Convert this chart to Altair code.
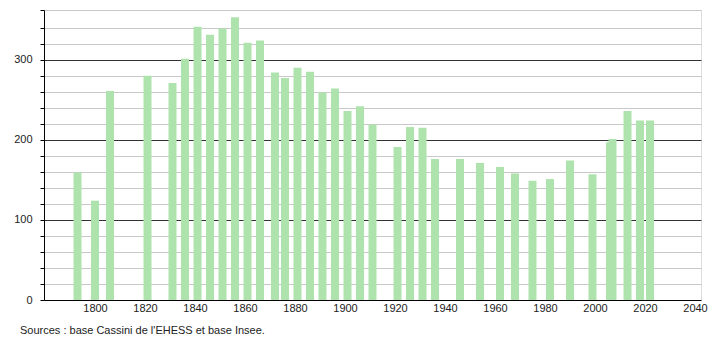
import altair as alt
import pandas as pd

years = [1793, 1800, 1806, 1821, 1831, 1836, 1841, 1846, 1851, 1856, 1861, 1866,
         1872, 1876, 1881, 1886, 1891, 1896, 1901, 1906, 1911, 1921, 1926, 1931,
         1936, 1946, 1954, 1962, 1968, 1975, 1982, 1990, 1999, 2006, 2007, 2013,
         2018, 2022]
population = [159, 124, 261, 280, 271, 301, 341, 331, 339, 353, 321, 324,
              284, 277, 290, 285, 259, 264, 236, 242, 219, 191, 216, 215,
              176, 176, 171, 166, 158, 149, 151, 174, 157, 197, 201, 236,
              224, 224]
x_ticks = [1800, 1820, 1840, 1860, 1880, 1900, 1920, 1940, 1960, 1980, 2000, 2020, 2040]
y_ticks = [0, 20, 40, 60, 80, 100, 120, 140, 160, 180, 200, 220, 240, 260, 280,
           300, 320, 340, 362]
source_text = "Sources : base Cassini de l'EHESS et base Insee."

df = pd.DataFrame({"annee": years, "population": population})

FONT = "Liberation Sans"

chart = alt.Chart(df).mark_bar(size=8, color="#aee3ae").encode(
    x=alt.X("annee:Q",
            scale=alt.Scale(domain=[1779.6, 2042.4], nice=False, zero=False, padding=0),
            axis=alt.Axis(values=x_ticks, title=None, grid=False, ticks=False,
                          format="d", domainColor="#000", labelColor="#222",
                          labelFont=FONT, labelFontSize=11, labelPadding=2,
                          labelFlush=False)),
    y=alt.Y("population:Q",
            scale=alt.Scale(domain=[0, 362], nice=False, padding=0),
            axis=alt.Axis(values=y_ticks, title=None, grid=True,
                          gridColor={"condition": {"test": "datum.value % 100 === 0 && datum.value > 0",
                                                   "value": "#333333"},
                                     "value": "#c8c8c8"},
                          gridWidth=1,
                          tickSize=4, tickColor="#000", domainColor="#000",
                          labelExpr="datum.value % 100 === 0 ? datum.label : ''",
                          labelColor="#222", labelFont=FONT, labelFontSize=11,
                          labelPadding=8)),
).properties(
    width=657,
    height=290,
    title=alt.TitleParams(source_text, orient="bottom", anchor="start",
                          frame="group", dx=-24, offset=12, font=FONT,
                          fontSize=11, fontWeight="normal", color="#222"),
    padding={"left": 44, "top": 10, "right": 9, "bottom": 40},
    autosize=alt.AutoSizeParams(type="none"),
).configure_view(stroke=None).configure(background="white")

chart.save("out.html", embed_options={"renderer": "svg", "actions": False})
